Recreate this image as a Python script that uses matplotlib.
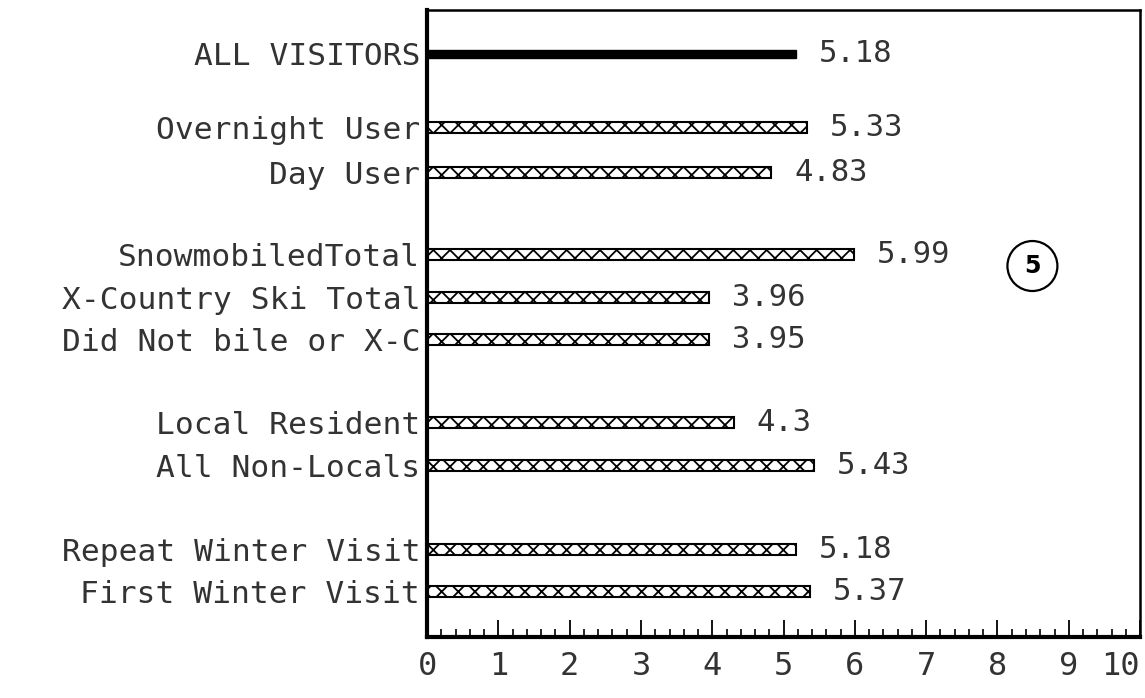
import matplotlib.pyplot as plt
import numpy as np

# daten
labels = ['ALL VISITORS', 'Overnight User', 'Day User', 'SnowmobiledTotal',
          'X-Country Ski Total', 'Did Not bile or X-C', 'Local Resident',
          'All Non-Locals', 'Repeat Winter Visit', 'First Winter Visit']
values = [5.18, 5.33, 4.83, 5.99, 3.96, 3.95, 4.3, 5.43, 5.18, 5.37]
value_text = ['5.18', '5.33', '4.83', '5.99', '3.96', '3.95', '4.3', '5.43', '5.18', '5.37']
xticks = list(range(0, 11))

# slot positions (groups separated by gaps)
ypos = [0, 1.74, 2.78, 4.71, 5.72, 6.71, 8.68, 9.69, 11.65, 12.66]

plt.rcParams['font.family'] = ['DejaVu Sans Mono']
plt.rcParams['hatch.linewidth'] = 1.3

fig = plt.figure(figsize=(11.45, 6.98), dpi=100)
ax = fig.add_axes([0.373, 0.0874, 0.6227, 0.8983])

for i, (y, v) in enumerate(zip(ypos, values)):
    if i == 0:
        ax.barh(y, v, height=0.2, color='black', edgecolor='black')
    else:
        ax.barh(y, v, height=0.26, color='white', edgecolor='black',
                hatch='xx', linewidth=1.5)
    ax.text(v + 0.32, y, value_text[i], va='center', ha='left',
            fontsize=22, color='#333333')

ax.set_xlim(0, 10)
ax.set_ylim(13.72, -1.035)
ax.set_yticks(ypos)
ax.set_yticklabels(labels, fontsize=22.5, color='#333333')
ax.tick_params(axis='y', length=0, pad=5)

ax.set_xticks(xticks)
ax.set_xticklabels([str(t) for t in xticks], fontsize=23, color='#333333')
ax.get_xticklabels()[-1].set_horizontalalignment('right')
ax.set_xticks(np.arange(0, 10.01, 0.2), minor=True)
ax.tick_params(axis='x', which='major', direction='in', length=12, width=1.3, pad=10)
ax.tick_params(axis='x', which='minor', direction='in', length=6, width=1.2)

for s in ['left', 'bottom']:
    ax.spines[s].set_linewidth(3)
for s in ['top', 'right']:
    ax.spines[s].set_linewidth(1.8)

ax.text(8.49, 4.99, '5', ha='center', va='center', fontsize=17,
        fontweight='bold', family='DejaVu Sans',
        bbox=dict(boxstyle='circle,pad=0.55', facecolor='white',
                  edgecolor='black', linewidth=1.6))

fig.savefig('out.png', dpi=100)
